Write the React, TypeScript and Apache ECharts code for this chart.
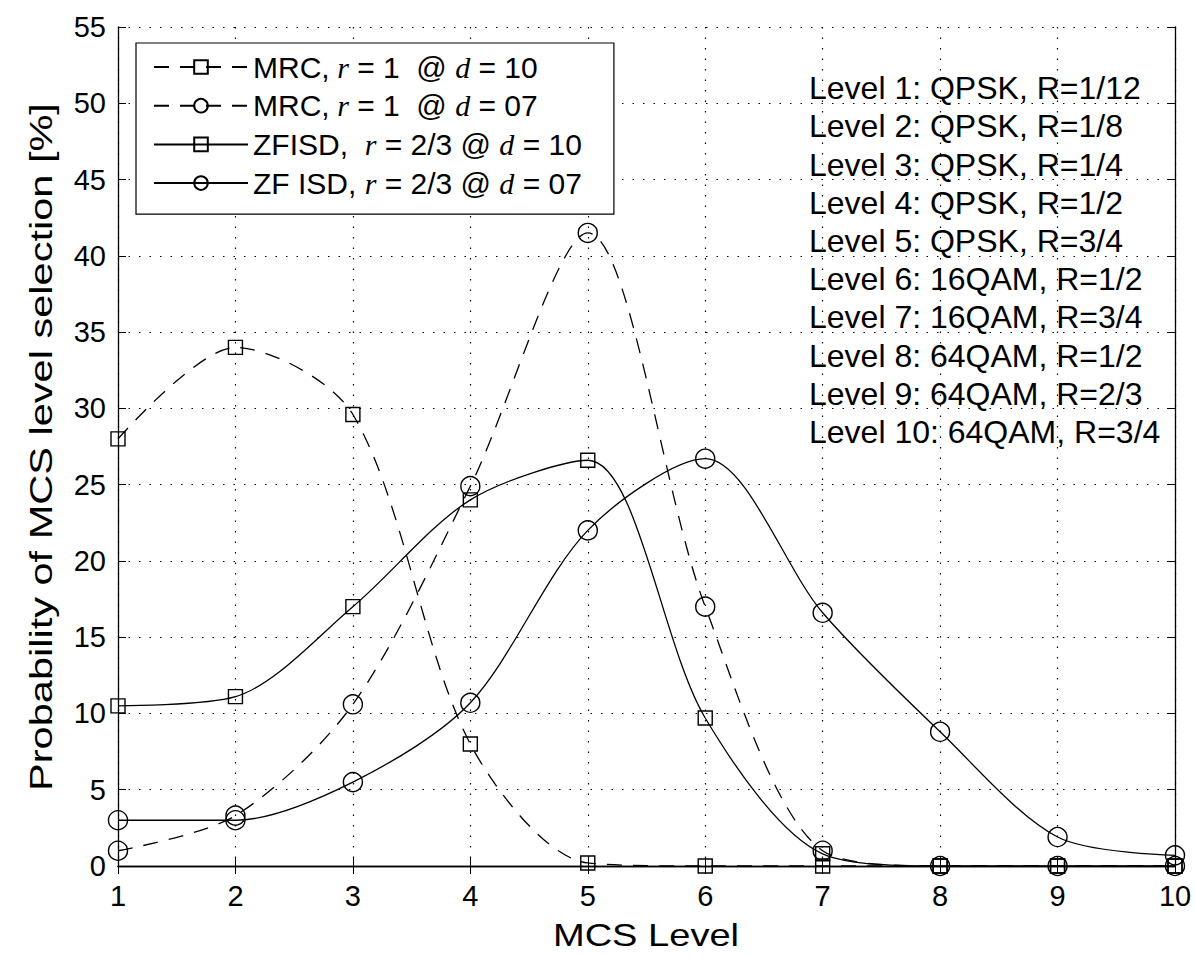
import React, { useEffect, useRef } from "react";
import * as echarts from "echarts";

const levels = [1, 2, 3, 4, 5, 6, 7, 8, 9, 10];
const mrcD10 = [28.0, 34.0, 29.6, 8.0, 0.2, 0.0, 0.0, 0.0, 0.0, 0.0];
const mrcD07 = [1.0, 3.3, 10.6, 24.9, 41.5, 17.0, 1.0, 0.0, 0.0, 0.0];
const zfD10 = [10.5, 11.1, 17.0, 24.0, 26.6, 9.7, 0.8, 0.0, 0.0, 0.0];
const zfD07 = [3.0, 3.0, 5.5, 10.7, 22.0, 26.7, 16.6, 8.8, 1.9, 0.7];

const xTitle = "MCS Level";
const yTitle = "Probability of MCS level selection [%]";

const seriesNames = [
  "MRC, r = 1 @ d = 10",
  "MRC, r = 1 @ d = 07",
  "ZFISD,  r = 2/3 @ d = 10",
  "ZF ISD, r = 2/3 @ d = 07",
];
const legendRich: Record<string, string> = {
  [seriesNames[0]]: "{n|MRC,}{i| r}{n| = 1  @ }{i|d}{n| = 10}",
  [seriesNames[1]]: "{n|MRC,}{i| r}{n| = 1  @ }{i|d}{n| = 07}",
  [seriesNames[2]]: "{n|ZFISD,  }{i|r}{n| = 2/3 @ }{i|d}{n| = 10}",
  [seriesNames[3]]: "{n|ZF ISD, }{i|r}{n| = 2/3 @ }{i|d}{n| = 07}",
};

const levelNotes = [
  "Level 1: QPSK, R=1/12",
  "Level 2: QPSK, R=1/8",
  "Level 3: QPSK, R=1/4",
  "Level 4: QPSK, R=1/2",
  "Level 5: QPSK, R=3/4",
  "Level 6: 16QAM, R=1/2",
  "Level 7: 16QAM, R=3/4",
  "Level 8: 64QAM, R=1/2",
  "Level 9: 64QAM, R=2/3",
  "Level 10: 64QAM, R=3/4",
];

const FONT = "Liberation Sans";

export default function App() {
  const ref = useRef<HTMLDivElement>(null);
  useEffect(() => {
    document.body.style.margin = "0";
    const chart = echarts.init(ref.current!, null, { renderer: "svg" });
    const mk = (
      name: string,
      data: number[],
      dashed: boolean,
      symbol: string,
      size: number
    ) => ({
      name,
      type: "line",
      data: levels.map((x, i) => [x, data[i]]),
      smooth: 0.3,
      symbol,
      symbolSize: size,
      showSymbol: true,
      color: "#000",
      lineStyle: { color: "#000", width: 1.3, type: dashed ? [15, 11] : "solid" },
      itemStyle: { color: "rgba(255,255,255,0)", borderColor: "#000", borderWidth: 1.4 },
      emphasis: { disabled: true },
      z: 3,
    });
    const gridLine = { show: true, lineStyle: { color: "#000", width: 1.2, type: [1.5, 9] } };
    const frameLine = { show: true, lineStyle: { color: "#000", width: 1.3 } };
    const innerTick = { show: true, inside: true, length: 8, lineStyle: { color: "#000" } };
    chart.setOption({
      animation: false,
      backgroundColor: "#fff",
      grid: { left: 118, right: 20, top: 27, bottom: 91 },
      xAxis: [
        {
          type: "value",
          min: 1,
          max: 10,
          interval: 1,
          axisLine: frameLine,
          axisTick: innerTick,
          axisLabel: { fontFamily: FONT, fontSize: 29, color: "#000", margin: 15 },
          splitLine: gridLine,
        },
        {
          type: "value",
          position: "top",
          min: 1,
          max: 10,
          interval: 1,
          axisLine: frameLine,
          axisTick: innerTick,
          axisLabel: { show: false },
          splitLine: { show: false },
        },
      ],
      yAxis: [
        {
          type: "value",
          min: 0,
          max: 55,
          interval: 5,
          axisLine: frameLine,
          axisTick: innerTick,
          axisLabel: { fontFamily: FONT, fontSize: 29, color: "#000", margin: 12 },
          splitLine: gridLine,
        },
        {
          type: "value",
          position: "right",
          min: 0,
          max: 55,
          interval: 5,
          axisLine: frameLine,
          axisTick: innerTick,
          axisLabel: { show: false },
          splitLine: { show: false },
        },
      ],
      legend: {
        orient: "vertical",
        left: 136,
        top: 43,
        data: seriesNames,
        backgroundColor: "#fff",
        borderColor: "#000",
        borderWidth: 1.2,
        borderRadius: 0,
        padding: [9, 32, 16, 17],
        itemGap: 8.7,
        itemWidth: 94,
        itemHeight: 17,
        selectedMode: false,
        formatter: (name: string) => legendRich[name] || name,
        textStyle: {
          color: "#000",
          rich: {
            n: { fontFamily: FONT, fontSize: 30, lineHeight: 30, color: "#000" },
            i: {
              fontFamily: "Liberation Serif",
              fontStyle: "italic",
              fontSize: 30,
              lineHeight: 30,
              color: "#000",
            },
          },
        },
      },
      graphic: [
        {
          type: "text",
          x: 809,
          y: 69,
          z: 10,
          style: {
            text: levelNotes.join("\n"),
            fontFamily: FONT,
            fontSize: 32,
            lineHeight: 38.2,
            fill: "#000",
            verticalAlign: "top",
          },
        },
        {
          type: "text",
          x: 646,
          y: 935,
          scaleX: 1.19,
          z: 10,
          style: {
            text: xTitle,
            fontFamily: FONT,
            fontSize: 32,
            fill: "#000",
            align: "center",
            verticalAlign: "middle",
          },
        },
        {
          type: "text",
          x: 41,
          y: 447,
          rotation: Math.PI / 2,
          scaleX: 1.34,
          z: 10,
          style: {
            text: yTitle,
            fontFamily: FONT,
            fontSize: 31,
            fill: "#000",
            align: "center",
            verticalAlign: "middle",
          },
        },
      ],
      series: [
        mk(seriesNames[0], mrcD10, true, "rect", 14),
        mk(seriesNames[1], mrcD07, true, "circle", 19),
        mk(seriesNames[2], zfD10, false, "rect", 14),
        mk(seriesNames[3], zfD07, false, "circle", 19),
      ],
    });
    return () => chart.dispose();
  }, []);
  return <div ref={ref} style={{ width: 1195, height: 957 }} />;
}
